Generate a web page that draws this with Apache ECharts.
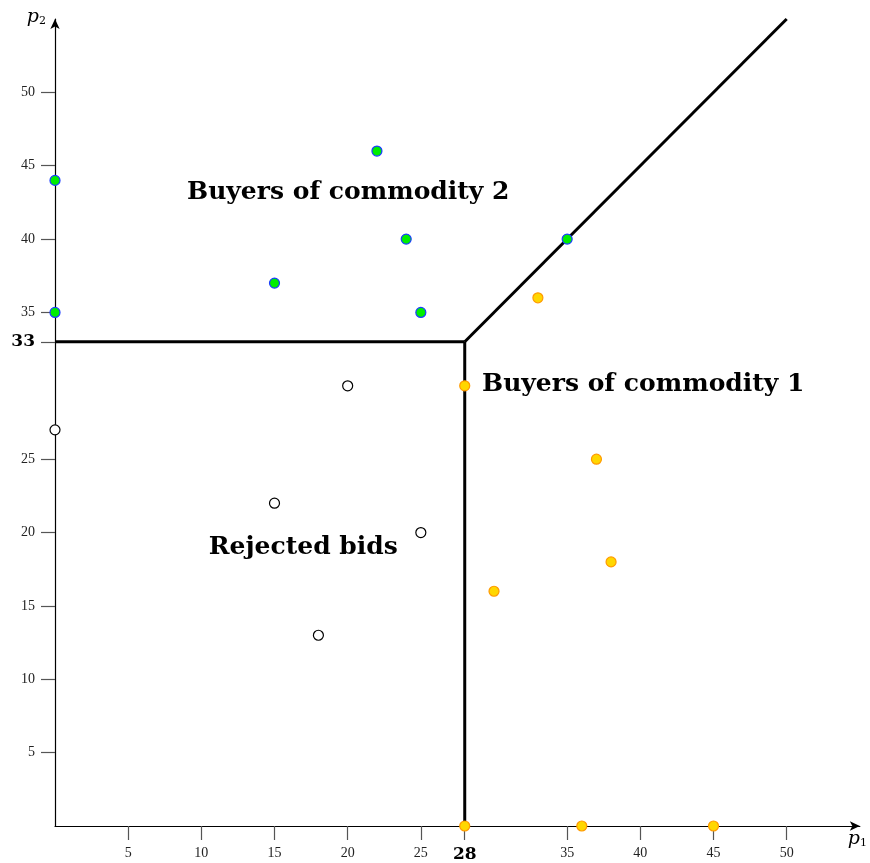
<!DOCTYPE html>
<html>
<head>
<meta charset="utf-8">
<script src="https://cdn.jsdelivr.net/npm/echarts@6/dist/echarts.min.js"></script>
<style>html,body{margin:0;padding:0;background:#fff}#c{width:870px;height:863px}</style>
</head>
<body>
<div id="c"></div>
<script>
// Data
const buyers2 = [[0,44],[0,35],[15,37],[22,46],[24,40],[25,35],[35,40]];
const buyers1 = [[33,36],[28,30],[37,25],[38,18],[30,16],[28,0],[36,0],[45,0]];
const rejected = [[0,27],[20,30],[15,22],[25,20],[18,13]];
const boundaryH = [[0,33],[28,33]];
const boundaryV = [[28,0],[28,33]];
const boundaryD = [[28,33],[50,55]];
const xTicks = [5,10,15,20,25,28,35,40,45,50];
const yTicks = [5,10,15,20,25,33,35,40,45,50];
const xBold = 28, yBold = 33;
const regionLabels = [
  {name:'Buyers of commodity 2', value:[20.04,43.15], align:'center'},
  {name:'Buyers of commodity 1', value:[29.18,30.1], align:'left'},
  {name:'Rejected bids', value:[16.97,19.0], align:'center'}
];

const serif = '"DejaVu Serif", "Liberation Serif", serif';
const tickFont = '"Liberation Serif", "DejaVu Serif", serif';
const chart = echarts.init(document.getElementById('c'));
const boldRich = {b:{fontFamily:serif,fontWeight:'bold',fontSize:17,color:'#000'}};

chart.setOption({
  animation:false,
  grid:{left:55,right:8,top:19,bottom:37,containLabel:false},
  xAxis:{
    type:'value',min:0,max:55,
    splitLine:{show:false},
    axisLine:{lineStyle:{color:'#000',width:1.2},symbol:['none','arrow'],symbolSize:[7,10]},
    axisTick:{show:true,customValues:xTicks,length:14,lineStyle:{color:'#555',width:1.2}},
    axisLabel:{customValues:xTicks,margin:20,fontFamily:tickFont,fontSize:14,color:'#222',
      formatter:v=>v===xBold?'{b|'+v+'}':String(v),rich:boldRich},
    name:'{i|p}{s|1}',nameLocation:'end',nameGap:-12,
    nameTextStyle:{align:'left',verticalAlign:'top',padding:[4,0,0,0],
      rich:{i:{fontFamily:serif,fontStyle:'italic',fontSize:19,color:'#000'},
            s:{fontFamily:serif,fontSize:11,color:'#000',verticalAlign:'bottom',padding:[8,0,0,0]}}}
  },
  yAxis:{
    type:'value',min:0,max:55,
    splitLine:{show:false},
    axisLine:{lineStyle:{color:'#000',width:1.2},symbol:['none','arrow'],symbolSize:[7,10]},
    axisTick:{show:true,customValues:yTicks,length:14,lineStyle:{color:'#555',width:1.2}},
    axisLabel:{customValues:yTicks,margin:20,fontFamily:tickFont,fontSize:14,color:'#222',
      formatter:v=>v===yBold?'{b|'+v+'}':String(v),rich:boldRich},
    name:'{i|p}{s|2}',nameLocation:'end',nameGap:0,
    nameTextStyle:{align:'right',verticalAlign:'middle',padding:[0,9,4,0],
      rich:{i:{fontFamily:serif,fontStyle:'italic',fontSize:19,color:'#000'},
            s:{fontFamily:serif,fontSize:11,color:'#000',padding:[8,0,0,0]}}}
  },
  series:[
    {type:'line',data:boundaryH,symbol:'none',lineStyle:{color:'#000',width:3},z:2},
    {type:'line',data:boundaryV,symbol:'none',lineStyle:{color:'#000',width:3},z:2},
    {type:'line',data:boundaryD,symbol:'none',lineStyle:{color:'#000',width:3},z:2},
    {type:'scatter',data:buyers2,symbolSize:10,itemStyle:{color:'#00ee00',borderColor:'#1a3cff',borderWidth:1.2,opacity:1},z:5},
    {type:'scatter',data:buyers1,symbolSize:10,itemStyle:{color:'#ffd700',borderColor:'#ff9a00',borderWidth:1.2,opacity:1},z:5},
    {type:'scatter',data:rejected,symbolSize:10,itemStyle:{color:'#fff',borderColor:'#000',borderWidth:1.2,opacity:1},z:5},
    {type:'scatter',symbolSize:0,z:6,silent:true,itemStyle:{opacity:1},
      data:regionLabels.map(d=>({name:d.name,value:d.value,
        label:{show:true,position:'inside',align:d.align,verticalAlign:'middle',opacity:1,
          formatter:'{b}',fontFamily:serif,fontWeight:'bold',fontSize:25,color:'#000'}}))}
  ]
});
</script>
</body>
</html>
